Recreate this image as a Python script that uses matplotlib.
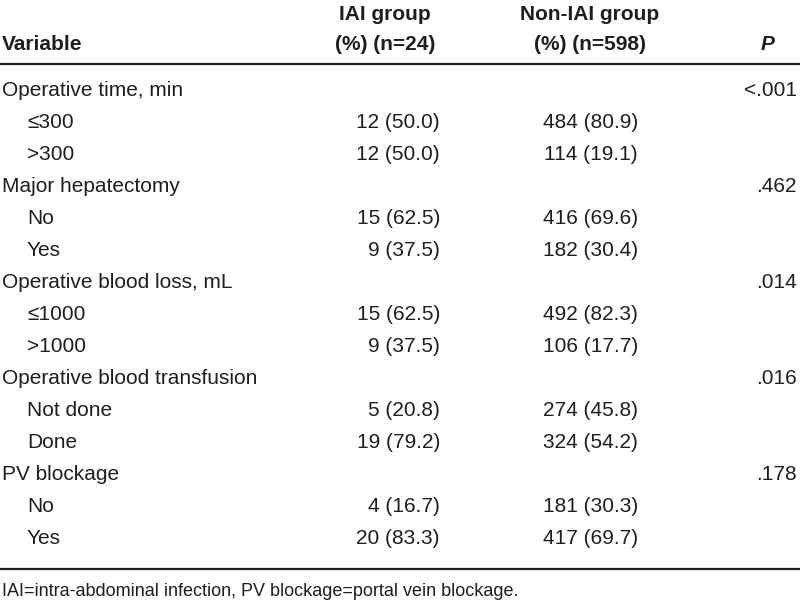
import matplotlib.pyplot as plt

# table contents
groups = ["Operative time, min", "Major hepatectomy", "Operative blood loss, mL",
          "Operative blood transfusion", "PV blockage"]
p_values = ["<.001", ".462", ".014", ".016", ".178"]
sub_labels = [["\u2264300", ">300"], ["No", "Yes"], ["\u22641000", ">1000"],
              ["Not done", "Done"], ["No", "Yes"]]
iai_n = [[12, 12], [15, 9], [15, 9], [5, 19], [4, 20]]
iai_pct = [[50.0, 50.0], [62.5, 37.5], [62.5, 37.5], [20.8, 79.2], [16.7, 83.3]]
non_n = [[484, 114], [416, 182], [492, 106], [274, 324], [181, 417]]
non_pct = [[80.9, 19.1], [69.6, 30.4], [82.3, 17.7], [45.8, 54.2], [30.3, 69.7]]
header_top = ["", "IAI group", "Non-IAI group", ""]
header_bottom = ["Variable", "(%) (n=24)", "(%) (n=598)", "P"]
footnote = "IAI=intra-abdominal infection, PV blockage=portal vein blockage."

plt.rcParams['font.family'] = ["Liberation Sans", "DejaVu Sans"]

ink = "#1e1e1e"
fs = 15

fig = plt.figure(figsize=(8, 6.08), dpi=100)
ax = fig.add_axes([0, 0, 1, 1])
ax.set_xlim(0, 800)
ax.set_ylim(608, 0)
ax.axis('off')

# header
ax.text(385, 14, header_top[1], ha='center', va='center', fontsize=fs, fontweight='bold', color=ink)
ax.text(590, 14, header_top[2], ha='center', va='center', fontsize=fs, fontweight='bold', color=ink)
ax.text(2, 44, header_bottom[0], ha='left', va='center', fontsize=fs, fontweight='bold', color=ink)
ax.text(385, 44, header_bottom[1], ha='center', va='center', fontsize=fs, fontweight='bold', color=ink)
ax.text(590, 44, header_bottom[2], ha='center', va='center', fontsize=fs, fontweight='bold', color=ink)
ax.text(768, 44, header_bottom[3], ha='center', va='center', fontsize=fs, fontweight='bold',
        fontstyle='italic', color=ink)
ax.plot([0, 800], [64, 64], color=ink, lw=1.6)

# body
y = 91
step = 32
for g in range(len(groups)):
    ax.text(2, y, groups[g], ha='left', va='center', fontsize=fs, color=ink)
    ax.text(797, y, p_values[g], ha='right', va='center', fontsize=fs, color=ink)
    y += step
    for k in range(len(sub_labels[g])):
        ax.text(27, y, sub_labels[g][k], ha='left', va='center', fontsize=fs, color=ink)
        ax.text(440, y, "%d (%.1f)" % (iai_n[g][k], iai_pct[g][k]), ha='right', va='center',
                fontsize=fs, color=ink)
        ax.text(638, y, "%d (%.1f)" % (non_n[g][k], non_pct[g][k]), ha='right', va='center',
                fontsize=fs, color=ink)
        y += step

ax.plot([0, 800], [569, 569], color=ink, lw=1.6)
ax.text(2, 592, footnote, ha='left', va='center', fontsize=13, color=ink)

fig.savefig("out.png", dpi=100)
